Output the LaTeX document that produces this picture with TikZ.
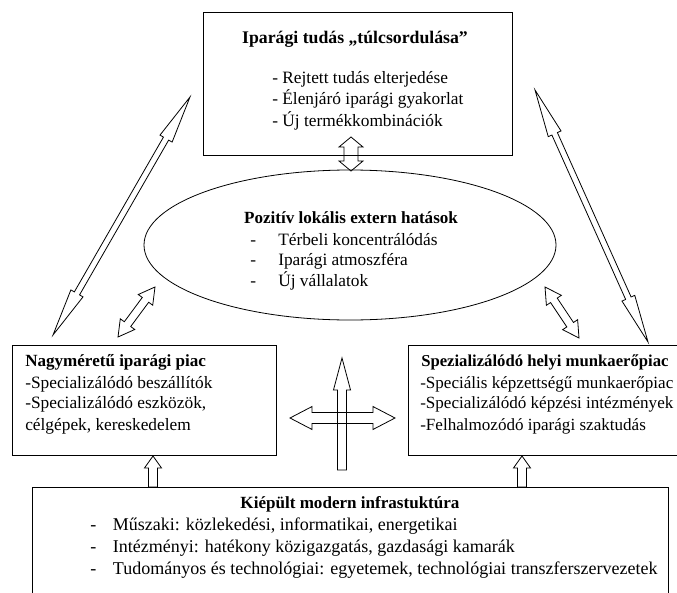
\documentclass[tikz,border=0pt]{standalone}
\usepackage{fontspec}
\setmainfont{Liberation Serif}
\usetikzlibrary{calc,shapes.geometric}

\tikzset{
  box/.style={draw, rectangle, inner sep=0pt, line width=0.6pt},
  txt/.style={inner sep=0pt, anchor=mid west, font=\fontsize{13}{16}\selectfont},
  ttl/.style={inner sep=0pt, anchor=mid, font=\fontsize{12.8}{16}\selectfont\bfseries},
  hollow/.style={draw, line width=0.6pt, line join=miter}
}

% hollow arrow with two heads: head length, head half width, shaft half width, from, to
\newcommand{\twoway}[5]{%
  \coordinate (h1) at ($(#4)!#1!(#5)$);
  \coordinate (h2) at ($(#5)!#1!(#4)$);
  \draw[hollow] (#4) -- ($(h1)!#2!90:(#5)$) -- ($(h1)!#3!90:(#5)$)
    -- ($(h2)!#3!-90:(#4)$) -- ($(h2)!#2!-90:(#4)$) -- (#5)
    -- ($(h2)!#2!90:(#4)$) -- ($(h2)!#3!90:(#4)$)
    -- ($(h1)!#3!-90:(#5)$) -- ($(h1)!#2!-90:(#5)$) -- cycle;}
% hollow arrow with one head: head length, head half width, shaft half width, tail, tip
\newcommand{\oneway}[5]{%
  \coordinate (h2) at ($(#5)!#1!(#4)$);
  \draw[hollow] ($(#4)!#3!-90:(#5)$) -- ($(h2)!#3!90:(#4)$) -- ($(h2)!#2!90:(#4)$)
    -- (#5) -- ($(h2)!#2!-90:(#4)$) -- ($(h2)!#3!-90:(#4)$)
    -- ($(#4)!#3!90:(#5)$) -- cycle;}

\begin{document}
\begin{tikzpicture}[x=0.75pt,y=-0.75pt]
\useasboundingbox (0,0) rectangle (677,592);

% boxes
\node[box, minimum width=231.75pt, minimum height=107.25pt] (tudas) at (357.5,83.5) {};
\node[draw, ellipse, line width=0.6pt, minimum width=309pt, minimum height=112.5pt] (hatas) at (350,245) {};
\node[box, minimum width=198pt, minimum height=82.5pt] (piac) at (144,400) {};
\node[box, minimum width=204pt, minimum height=82.5pt] (munka) at (544,400) {};
\node[box, minimum width=477pt, minimum height=84.75pt] (infra) at (350,543.5) {};

% texts
\node[ttl, font=\fontsize{13.3}{16}\selectfont\bfseries] (tudasT) at (355,40) {Iparági tudás „túlcsordulása”};
\foreach \y/\t [count=\i] in {80/{Rejtett tudás elterjedése}, 101/{Élenjáró iparági gyakorlat}, 123/{Új termékkombinációk}}
\node[txt] (tudas\i) at (272,\y) {- \t};

\node[ttl] (hatasT) at (351,220) {Pozitív lokális extern hatások};
\foreach \y/\t [count=\i] in {242/{Térbeli koncentrálódás}, 262/{Iparági atmoszféra}, 283/{Új vállalatok}}
\node[txt] (hatas\i) at (250,\y) {\makebox[21pt][l]{-}\t};

\node[ttl, anchor=mid west] (piacT) at (25,363) {Nagyméretű iparági piac};
\foreach \y/\t [count=\i] in {385/{-Specializálódó beszállítók}, 405/{-Specializálódó eszközök,}, 427/{célgépek, kereskedelem}}
\node[txt] (piac\i) at (25,\y) {\t};

\node[ttl, anchor=mid west, font=\fontsize{12.5}{16}\selectfont\bfseries] (munkaT) at (421,363) {Spezializálódó helyi munkaerőpiac};
\foreach \y/\t [count=\i] in {385/{-Speciális képzettségű munkaerőpiac}, 405/{-Specializálódó képzési intézmények}, 427/{-Felhalmozódó iparági szaktudás}}
\node[txt, font=\fontsize{12.8}{16}\selectfont] (munka\i) at (420,\y) {\t};

\node[ttl] (infraT) at (350,505) {Kiépült modern infrastuktúra};
\foreach \y/\t [count=\i] in {527/{Műszaki: közlekedési, informatikai, energetikai}, 549/{Intézményi: hatékony közigazgatás, gazdasági kamarák}, 571/{Tudományos és technológiai: egyetemek, technológiai transzferszervezetek}}
\node[txt, font=\fontsize{13.5}{16}\selectfont] (infra\i) at (90,\y) {\makebox[17pt][l]{-}\t};

% arrow ends
\coordinate (a1) at (190,97);  \coordinate (a2) at (53,335);
\coordinate (b1) at (535,90);  \coordinate (b2) at (648,342);
\coordinate (c1) at (155,287); \coordinate (c2) at (118,337);
\coordinate (d1) at (545,287); \coordinate (d2) at (579,338);
\coordinate (e1) at (351,137); \coordinate (e2) at (351,171);
\coordinate (f0) at (342,470); \coordinate (f1) at (342,358);
\coordinate (g1) at (290,418); \coordinate (g2) at (395,418);
\coordinate (p0) at (153,487); \coordinate (p1) at (153,456);
\coordinate (q0) at (522,487); \coordinate (q1) at (522,456);

% arrows
\twoway{36pt}{5.25pt}{2.25pt}{a1}{a2}
\twoway{36pt}{5.25pt}{2.25pt}{b1}{b2}
\twoway{12pt}{6.75pt}{3pt}{c1}{c2}
\twoway{12pt}{6.75pt}{3pt}{d1}{d2}
\twoway{7.5pt}{9pt}{5.25pt}{e1}{e2}
\oneway{24pt}{6.4pt}{3.4pt}{f0}{f1}
\twoway{16.5pt}{8.6pt}{4.1pt}{g1}{g2}
\oneway{9pt}{6.4pt}{3.4pt}{p0}{p1}
\oneway{9pt}{6.4pt}{3.4pt}{q0}{q1}
\end{tikzpicture}
\end{document}
